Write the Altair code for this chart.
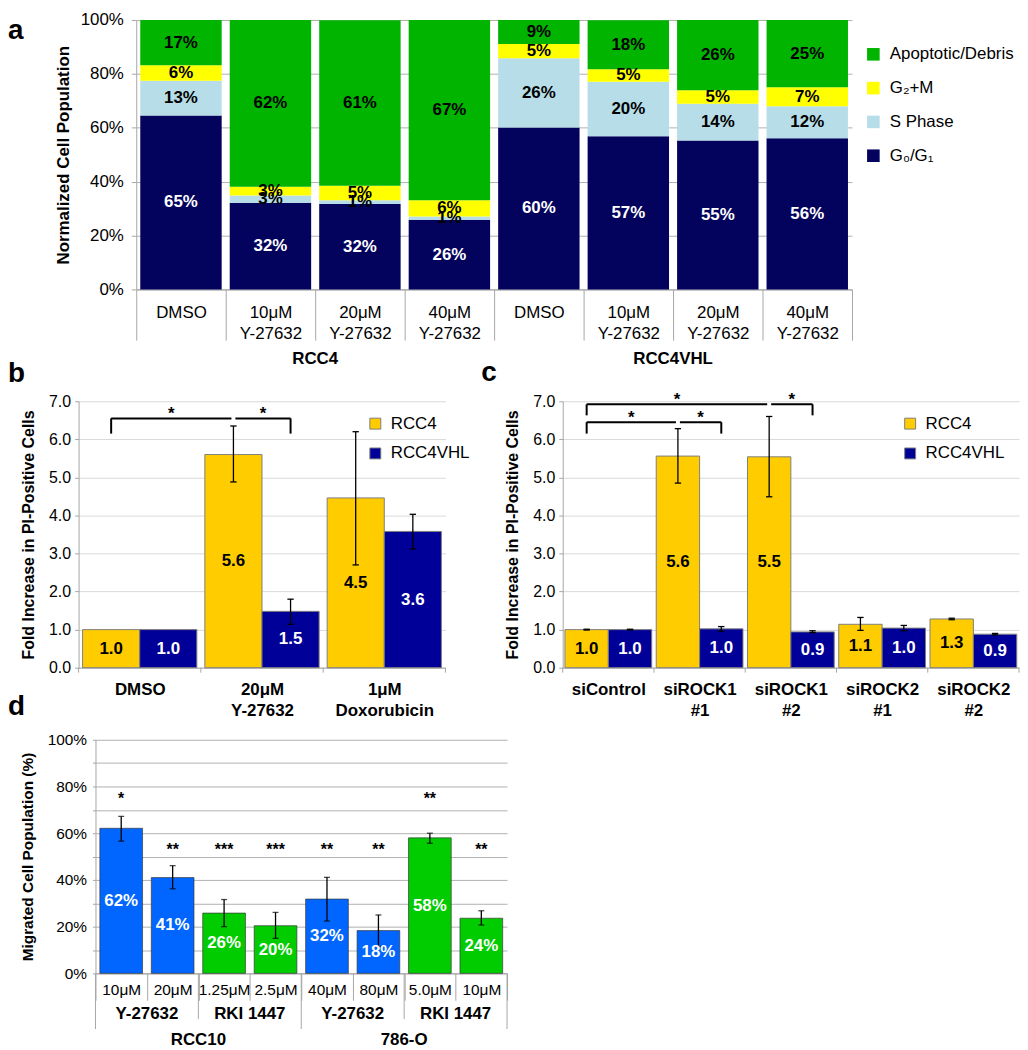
import altair as alt
import pandas as pd

FONT = "Liberation Sans"
AX = "#a6a6a6"
GRID_A = "#b0b0b0"
GRID_B = "#d9d9d9"

# ---------------- Panel a data ----------------
a_cells = ["RCC4", "RCC4VHL"]
a_treatments = ["DMSO", "10μM~Y-27632", "20μM~Y-27632", "40μM~Y-27632"]
a_phases = ["Apoptotic/Debris", "G₂+M", "S Phase", "G₀/G₁"]
a_colors = ["#00B400", "#FFFF00", "#B7DEE8", "#03035E"]
a_g0g1 = [64.6, 32.1, 31.7, 25.9, 60.1, 56.9, 55.3, 56.1]
a_sphase = [12.9, 2.8, 1.4, 1.2, 25.7, 20.2, 13.6, 11.9]
a_g2m = [5.7, 3.2, 5.4, 6.0, 5.3, 4.6, 5.0, 7.0]
a_apop = [16.8, 61.9, 61.4, 66.9, 8.9, 18.2, 26.1, 25.0]

# ---------------- Panel b data ----------------
b_groups = ["DMSO", "20μM~Y-27632", "1μM~Doxorubicin"]
bc_series = ["RCC4", "RCC4VHL"]
bc_colors = ["#FFCC00", "#000099"]
b_rcc4 = [1.0, 5.6, 4.46]
b_vhl = [1.0, 1.48, 3.58]
b_rcc4_lo = [None, 4.88, 2.70]
b_rcc4_hi = [None, 6.35, 6.20]
b_vhl_lo = [None, 1.14, 3.12]
b_vhl_hi = [None, 1.80, 4.03]
# brackets: left (group, series), middle, right, bar level, leg end
b_brackets = [((0, 0), (1, 0), (1, 1), 6.55, 6.15)]

# ---------------- Panel c data ----------------
c_groups = ["siControl", "siROCK1~#1", "siROCK1~#2", "siROCK2~#1", "siROCK2~#2"]
c_rcc4 = [1.0, 5.56, 5.54, 1.14, 1.28]
c_vhl = [1.0, 1.02, 0.94, 1.04, 0.88]
c_rcc4_lo = [0.99, 4.85, 4.49, 0.98, 1.26]
c_rcc4_hi = [1.01, 6.28, 6.60, 1.32, 1.30]
c_vhl_lo = [0.99, 0.96, 0.92, 0.97, 0.86]
c_vhl_hi = [1.01, 1.08, 0.97, 1.11, 0.90]
c_brackets = [((0, 0), (1, 0), (1, 1), 6.45, 6.15),
              ((0, 0), (2, 0), (2, 1), 6.92, 6.63)]

# ---------------- Panel d data ----------------
d_cells = ["RCC10", "RCC10", "RCC10", "RCC10", "786-O", "786-O", "786-O", "786-O"]
d_drugs = ["Y-27632", "Y-27632", "RKI 1447", "RKI 1447", "Y-27632", "Y-27632", "RKI 1447", "RKI 1447"]
d_conc = ["10μM", "20μM", "1.25μM", "2.5μM", "40μM", "80μM", "5.0μM", "10μM"]
d_vals = [62.1, 41.0, 25.8, 20.4, 31.8, 18.3, 58.0, 23.6]
d_lo = [56.6, 36.2, 20.0, 15.0, 22.4, 11.5, 55.7, 20.7]
d_hi = [67.2, 46.1, 31.6, 26.1, 41.1, 25.0, 60.0, 26.8]
d_stars = ["*", "**", "***", "***", "**", "**", "**", "**"]
d_star_y = [74.5, 53, 53, 53, 53, 53, 74.5, 53]
d_drug_names = ["Y-27632", "RKI 1447"]
d_drug_colors = ["#0066FF", "#00CC00"]

LETTER = dict(fontSize=28, fontWeight="bold", color="black", align="left", baseline="alphabetic")
band0 = dict(paddingInner=0, paddingOuter=0)


def spacer():
    return alt.Chart(pd.DataFrame({"s": [0]})).mark_point(opacity=0).encode(
        x=alt.X("s:Q", axis=None), y=alt.Y("s:Q", axis=None)).properties(width=1, height=1)


# ================= Panel a =================
A_W, A_H = 720, 271
a_keys = [f"{c}|{t}" for c in a_cells for t in a_treatments]
phase_vals = {"G₀/G₁": a_g0g1, "S Phase": a_sphase, "G₂+M": a_g2m, "Apoptotic/Debris": a_apop}
stack_order = ["G₀/G₁", "S Phase", "G₂+M", "Apoptotic/Debris"]
rows = []
for i, k in enumerate(a_keys):
    for o, ph in enumerate(stack_order):
        rows.append({"key": k, "phase": ph, "ord": o, "value": phase_vals[ph][i]})
df_a = pd.DataFrame(rows)

xa_axis = alt.Axis(labelExpr="datum.label ? split(split(datum.label, '|')[1], '~') : ''",
                   labelAngle=0, tickBand="extent", tickSize=51, tickColor=AX, domainColor=AX,
                   labelFontSize=17, labelColor="black", labelPadding=-36, labelLineHeight=21)
ya_scale = alt.Scale(domain=[0, 100], nice=False)
ya_axis = alt.Axis(values=[0, 20, 40, 60, 80, 100], labelExpr="datum.value + '%'",
                   title="Normalized Cell Population", titleFontSize=17, titleFontWeight="bold",
                   titleColor="black", labelFontSize=17, labelColor="black", labelPadding=8,
                   tickSize=5, tickColor=AX, domainColor=AX, gridColor=GRID_A, titlePadding=8)


def XA(bp=None):
    kw = dict(sort=a_keys, title=None, scale=alt.Scale(**band0), axis=xa_axis)
    if bp is not None:
        kw["bandPosition"] = bp
    return alt.X("key:N", **kw)


def YA(f):
    return alt.Y(f, scale=ya_scale, axis=ya_axis)


base_a = alt.Chart(df_a).transform_stack(
    stack="value", groupby=["key"], as_=["y0", "y1"],
    sort=[alt.SortField("ord", order="ascending")]
).transform_calculate(mid="(datum.y0 + datum.y1) / 2",
                      lab="format(datum.value, '.0f') + '%'")

bars_a = base_a.mark_bar(width=alt.RelativeBandSize(0.91)).encode(
    x=XA(), y=YA("y0:Q"), y2="y1:Q",
    color=alt.Color("phase:N", scale=alt.Scale(domain=a_phases, range=a_colors),
                    legend=alt.Legend(title=None, orient="none", legendX=733, legendY=26,
                                      symbolType="square", symbolSize=160, symbolStrokeWidth=0,
                                      labelFontSize=17, labelColor="black", rowPadding=16,
                                      labelOffset=8, labelLimit=220)),
)
text_a = base_a.mark_text(fontSize=17, fontWeight="bold").encode(
    x=XA(), y=YA("mid:Q"), text="lab:N",
    color=alt.condition("datum.ord == 0", alt.value("white"), alt.value("black")),
)
a_grp_df = pd.DataFrame({"key": [a_keys[1], a_keys[5]], "cell": a_cells})
grp_a = alt.Chart(a_grp_df).transform_calculate(ly=str(-70 * 100 / A_H)).mark_text(
    fontSize=17, fontWeight="bold", color="black", baseline="middle").encode(
    x=XA(1), y=YA("ly:Q"), text="cell:N")
let_a = alt.Chart(pd.DataFrame({"key": [a_keys[0]], "lt": ["a"]})).transform_calculate(
    ly=str(100 - 19 * 100 / A_H)).mark_text(dx=-129, **LETTER).encode(
    x=XA(0), y=YA("ly:Q"), text="lt:N")
panel_a = alt.layer(bars_a, text_a, grp_a, let_a).properties(width=A_W, height=A_H)


# ================= Panels b / c =================
def fold_panel(groups, rcc4, vhl, r_lo, r_hi, v_lo, v_hi, brackets, po, width, height,
               legend_x, letter, ldx, ldy):
    n = len(groups)
    step_px = width / n
    unit_px = height / 7.0
    inset = po / (2 + 2 * po)

    def centre(g, s):
        return g + (po + 0.5 + s) / (2 + 2 * po)

    recs = []
    for i, g in enumerate(groups):
        for s, (vals, lo, hi) in enumerate([(rcc4, r_lo, r_hi), (vhl, v_lo, v_hi)]):
            x0 = i + inset if s == 0 else i + 0.5
            x1 = i + 0.5 if s == 0 else i + 1 - inset
            recs.append({"grp": g, "series": bc_series[s], "value": vals[i], "lo": lo[i],
                         "hi": hi[i], "x0": x0, "x1": x1, "xc": centre(i, s)})
    df = pd.DataFrame(recs)
    cap = 3.2 / step_px
    base = alt.Chart(df).transform_calculate(half="datum.value / 2", zero="0",
                                             cl=f"datum.xc - {cap}", cr=f"datum.xc + {cap}")

    lab_arr = "[" + ",".join("'" + g + "'" for g in groups) + "]"
    xs = alt.Scale(domain=[0, n], nice=False, zero=False)
    xax = alt.Axis(values=[i + 0.5 for i in range(n)],
                   labelExpr=f"split({lab_arr}[floor(datum.value)], '~')", labelAngle=0,
                   labelFontSize=17, labelFontWeight="bold", labelColor="black", ticks=False,
                   domainColor=AX, labelPadding=14, labelLineHeight=21, grid=False, title=None)
    ys = alt.Scale(domain=[0, 7], nice=False)
    yax = alt.Axis(values=[0, 1, 2, 3, 4, 5, 6, 7], format=".1f",
                   title="Fold Increase in PI-Positive Cells", titleFontSize=16,
                   titleFontWeight="bold", titleColor="black", labelFontSize=16,
                   labelColor="black", tickSize=4, tickColor=AX, domainColor=AX,
                   gridColor=GRID_B, labelPadding=4, titlePadding=12)

    def X(f):
        return alt.X(f, scale=xs, axis=xax)

    def Y(f):
        return alt.Y(f, scale=ys, axis=yax)

    bars = base.mark_bar(stroke="#7f7f7f", strokeWidth=1).encode(
        x=X("x0:Q"), x2="x1:Q", y=Y("value:Q"), y2="zero:Q",
        color=alt.Color("series:N", scale=alt.Scale(domain=bc_series, range=bc_colors),
                        legend=alt.Legend(title=None, orient="none", legendX=legend_x, legendY=14,
                                          symbolType="square", symbolSize=121,
                                          symbolStrokeColor="#7f7f7f", symbolStrokeWidth=1,
                                          labelFontSize=17, labelColor="black", rowPadding=12,
                                          labelOffset=7)))
    errs = base.transform_filter("isValid(datum.lo)")
    err = errs.mark_rule(color="black", strokeWidth=1.3).encode(
        x=X("xc:Q"), y=Y("lo:Q"), y2="hi:Q")
    cap_lo = errs.mark_rule(color="black", strokeWidth=1.3).encode(
        x=X("cl:Q"), x2="cr:Q", y=Y("lo:Q"))
    cap_hi = errs.mark_rule(color="black", strokeWidth=1.3).encode(
        x=X("cl:Q"), x2="cr:Q", y=Y("hi:Q"))
    txt = base.mark_text(fontSize=17, fontWeight="bold").encode(
        x=X("xc:Q"), y=Y("half:Q"),
        text=alt.Text("value:Q", format=".1f"),
        color=alt.condition("datum.series == 'RCC4'", alt.value("black"), alt.value("white")))

    tk = pd.DataFrame({"tx": list(range(n + 1))})
    ticks = alt.Chart(tk).transform_calculate(t0="0", t1=str(-5 / unit_px)).mark_rule(
        color=AX, strokeWidth=1).encode(x=X("tx:Q"), y=Y("t0:Q"), y2="t1:Q")

    gap = 2.0 / step_px
    segs, stars = [], []
    for left, mid, right, lvl, leg in brackets:
        xl, xm, xr = centre(*left), centre(*mid), centre(*right)
        segs += [
            {"x1": xl, "x2": xm - gap, "y1": lvl, "y2": lvl},
            {"x1": xm + gap, "x2": xr, "y1": lvl, "y2": lvl},
            {"x1": xl, "x2": xl, "y1": leg, "y2": lvl},
            {"x1": xr, "x2": xr, "y1": leg, "y2": lvl},
        ]
        stars += [{"sx": (xl + xm - gap) / 2, "sy": lvl, "s": "*"},
                  {"sx": (xm + gap + xr) / 2, "sy": lvl, "s": "*"}]
    brk = alt.Chart(pd.DataFrame(segs)).mark_rule(color="black", strokeWidth=2).encode(
        x=X("x1:Q"), x2="x2:Q", y=Y("y1:Q"), y2="y2:Q")
    st = alt.Chart(pd.DataFrame(stars)).mark_text(fontSize=17, fontWeight="bold", dy=-4,
                                                    baseline="middle").encode(
        x=X("sx:Q"), y=Y("sy:Q"), text="s:N")
    let = alt.Chart(pd.DataFrame({"lt": [letter]})).transform_calculate(lx="0", ly="7").mark_text(
        dx=ldx, dy=ldy, **LETTER).encode(x=X("lx:Q"), y=Y("ly:Q"), text="lt:N")

    return alt.layer(bars, err, cap_lo, cap_hi, txt, ticks, brk, st, let).properties(
        width=width, height=height)


panel_b = fold_panel(b_groups, b_rcc4, b_vhl, b_rcc4_lo, b_rcc4_hi, b_vhl_lo, b_vhl_hi,
                     b_brackets, 0.07, 369, 268, 290, "b", -71, -19)
panel_c = fold_panel(c_groups, c_rcc4, c_vhl, c_rcc4_lo, c_rcc4_hi, c_vhl_lo, c_vhl_hi,
                     c_brackets, 0.052, 459, 268, 341, "c", -82, -20)

# ================= Panel d =================
D_W, D_H = 414, 235
d_keys = [f"{c}|{d}|{k}" for c, d, k in zip(d_cells, d_drugs, d_conc)]
df_d = pd.DataFrame({"key": d_keys, "drug": d_drugs, "value": d_vals, "lo": d_lo, "hi": d_hi,
                     "star": d_stars, "sy": d_star_y})
base_d = alt.Chart(df_d).transform_calculate(half="datum.value / 2",
                                             lab="format(datum.value, '.0f') + '%'")
xd_axis = alt.Axis(labelExpr="datum.label ? split(datum.label, '|')[2] : ''", labelAngle=0,
                   labelFontSize=15.5, labelColor="black", tickBand="extent", tickSize=27,
                   tickColor=AX, domainColor=AX, labelPadding=-18)
yds = alt.Scale(domain=[0, 100], nice=False)
ydax = alt.Axis(values=list(range(0, 101, 10)),
                labelExpr="datum.value % 20 == 0 ? datum.value + '%' : ''",
                title="Migrated Cell Population (%)", titleFontSize=15.5, titleFontWeight="bold",
                titleColor="black", labelFontSize=15.5, labelColor="black", tickSize=3,
                tickColor=AX, domainColor=AX, gridColor=GRID_A, labelPadding=6, titlePadding=12)


def YD(f):
    return alt.Y(f, scale=yds, axis=ydax)


def XD(bp=None):
    kw = dict(sort=d_keys, title=None, scale=alt.Scale(**band0), axis=xd_axis)
    if bp is not None:
        kw["bandPosition"] = bp
    return alt.X("key:N", **kw)


bars_d = base_d.mark_bar(width=alt.RelativeBandSize(0.83), stroke="#3a3a3a", strokeWidth=0.7).encode(
    x=XD(), y=YD("value:Q"),
    color=alt.Color("drug:N", scale=alt.Scale(domain=d_drug_names, range=d_drug_colors), legend=None))
err_d = base_d.mark_rule(color="black", strokeWidth=1.3).encode(x=XD(), y=YD("lo:Q"), y2="hi:Q")
caplo_d = base_d.mark_tick(color="black", thickness=1.3, size=6).encode(x=XD(), y=YD("lo:Q"))
caphi_d = base_d.mark_tick(color="black", thickness=1.3, size=6).encode(x=XD(), y=YD("hi:Q"))
txt_d = base_d.mark_text(fontSize=17, fontWeight="bold", color="white").encode(
    x=XD(), y=YD("half:Q"), text="lab:N")
star_d = base_d.mark_text(fontSize=16, fontWeight="bold", color="black").encode(
    x=XD(), y=YD("sy:Q"), text="star:N")

px = 100.0 / D_H   # data units per pixel
div_rows = []
for i, k in enumerate(d_keys):
    new_cell = i == 0 or d_cells[i] != d_cells[i - 1]
    new_drug = new_cell or d_drugs[i] != d_drugs[i - 1]
    if new_drug:
        div_rows.append({"key": k, "len": -(56 if new_cell else 46) * px})
div_start = alt.Chart(pd.DataFrame(div_rows)).transform_calculate(z="0").mark_rule(
    color=AX, strokeWidth=1).encode(x=XD(0), y=YD("z:Q"), y2="len:Q")
div_end = alt.Chart(pd.DataFrame({"key": [d_keys[-1]], "len": [-56 * px]})).transform_calculate(
    z="0").mark_rule(color=AX, strokeWidth=1).encode(x=XD(1), y=YD("z:Q"), y2="len:Q")

drug_rows, cell_rows = [], []
for i, k in enumerate(d_keys):
    if i % 2 == 0:
        drug_rows.append({"key": k, "lab": d_drugs[i]})
    if i % 4 == 1:
        cell_rows.append({"key": k, "lab": d_cells[i]})
drug_txt = alt.Chart(pd.DataFrame(drug_rows)).transform_calculate(ly=str(-41 * px)).mark_text(
    fontSize=17, fontWeight="bold", color="black", baseline="middle").encode(
    x=XD(1), y=YD("ly:Q"), text="lab:N")
cell_txt = alt.Chart(pd.DataFrame(cell_rows)).transform_calculate(ly=str(-67 * px)).mark_text(
    fontSize=17, fontWeight="bold", color="black", baseline="middle").encode(
    x=XD(1), y=YD("ly:Q"), text="lab:N")
let_d = alt.Chart(pd.DataFrame({"key": [d_keys[0]], "lt": ["d"]})).transform_calculate(
    ly="100").mark_text(dx=-88, dy=-25, **LETTER).encode(x=XD(0), y=YD("ly:Q"), text="lt:N")

panel_d = alt.layer(bars_d, err_d, caplo_d, caphi_d, txt_d, star_d, div_start, div_end,
                    drug_txt, cell_txt, let_d).properties(width=D_W, height=D_H)

row1 = alt.hconcat(spacer(), panel_a, spacing=-8).resolve_scale(color="independent")
row2 = alt.hconcat(spacer(), alt.hconcat(panel_b, panel_c, spacing=11).resolve_scale(
    color="independent"), spacing=-8).resolve_scale(color="independent")
row3 = alt.hconcat(spacer(), panel_d, spacing=-8).resolve_scale(color="independent")
top = alt.concat(row1, row2, columns=1, align="none", spacing=-7.5).resolve_scale(color="independent")
chart = alt.concat(top, row3, columns=1, align="none", spacing=-26).resolve_scale(
    color="independent").properties(padding=0).configure(font=FONT).configure_view(stroke=None)

chart.save("out.html", embed_options={"renderer": "svg", "actions": False})
